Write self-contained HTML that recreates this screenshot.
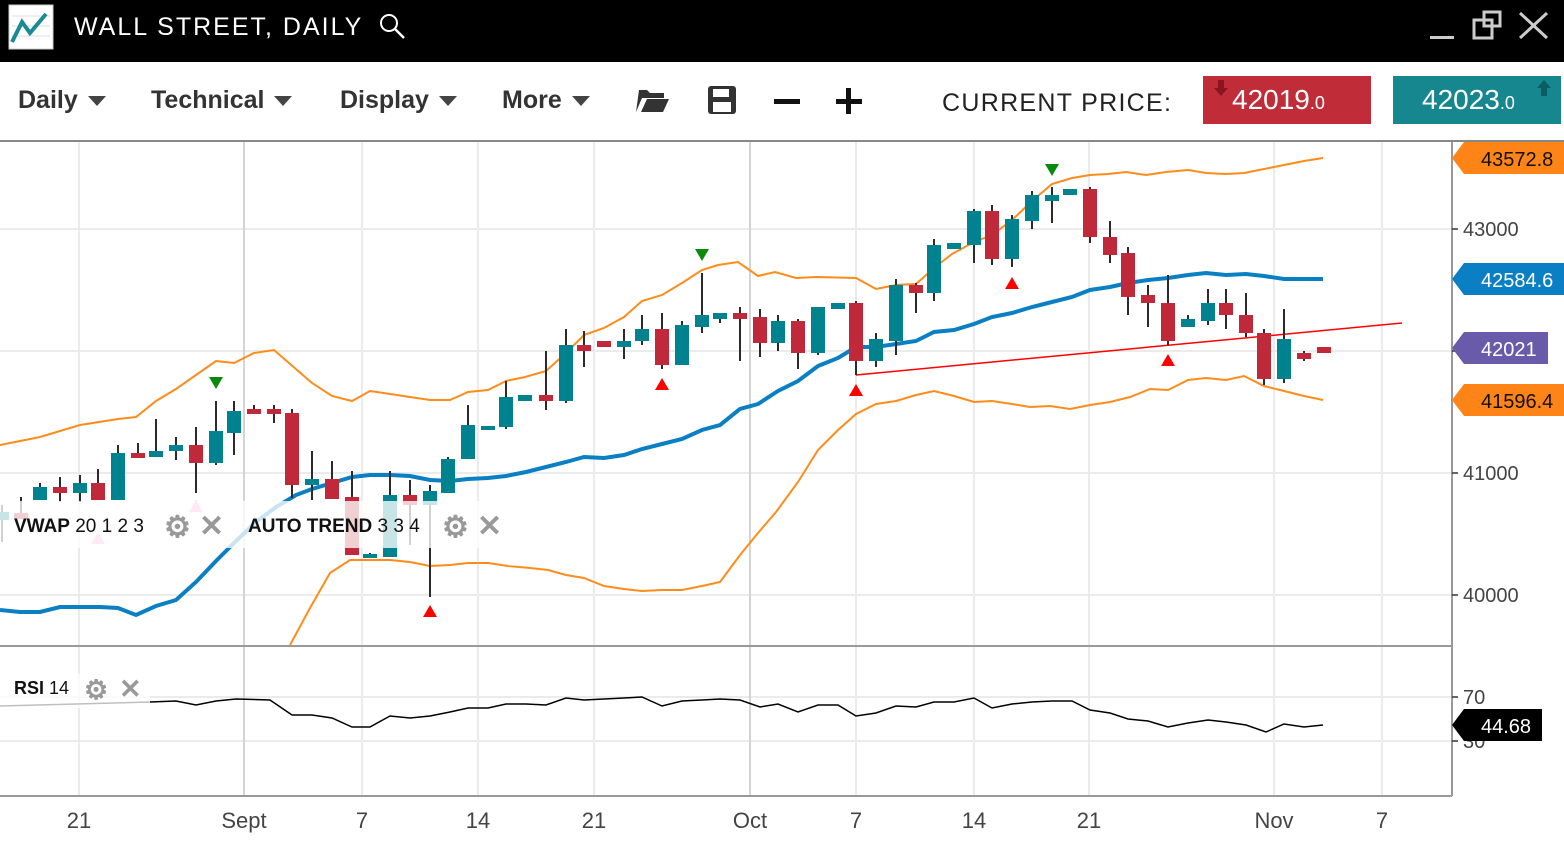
<!DOCTYPE html>
<html><head><meta charset="utf-8"><style>
body{margin:0;width:1564px;height:846px;overflow:hidden;background:#fff;font-family:"Liberation Sans",sans-serif;position:relative}
.top{position:absolute;left:0;top:0;width:1564px;height:62px;background:#000}
.tb{position:absolute;left:0;top:62px;width:1564px;height:78px;border-bottom:2px solid #888;background:#fff}
.m{position:absolute;top:86px;font-size:25px;font-weight:bold;color:#333}
.m .c{display:inline-block;width:0;height:0;border-left:9px solid transparent;border-right:9px solid transparent;border-top:10px solid #444;margin-left:10px;vertical-align:middle}
</style></head><body>
<div class="top">
<svg width="1564" height="62" style="position:absolute;left:0;top:0">
<rect x="9" y="5" width="44" height="44" fill="#fff" stroke="#ccc"/>
<line x1="12" y1="16" x2="50" y2="16" stroke="#ddd"/><line x1="12" y1="26" x2="50" y2="26" stroke="#ddd"/><line x1="12" y1="36" x2="50" y2="36" stroke="#ddd"/>
<polyline points="12,42 22,22 30,33 46,14" fill="none" stroke="#1a8a96" stroke-width="4"/>
<text x="74" y="35" fill="#fff" font-size="25" letter-spacing="2" font-family="Liberation Sans">WALL STREET, DAILY</text>
<circle cx="389" cy="23" r="8" fill="none" stroke="#fff" stroke-width="2"/><line x1="395" y1="29" x2="404" y2="38" stroke="#fff" stroke-width="2.5"/>
<rect x="1430" y="36" width="24" height="3" fill="#ccc"/>
<rect x="1474" y="20" width="18" height="18" fill="none" stroke="#ccc" stroke-width="3"/><rect x="1484" y="12" width="16" height="14" fill="none" stroke="#ccc" stroke-width="3"/>
<line x1="1520" y1="13" x2="1547" y2="38" stroke="#ccc" stroke-width="3"/><line x1="1547" y1="13" x2="1520" y2="38" stroke="#ccc" stroke-width="3"/>
</svg></div>
<div class="tb"></div>
<div class="m" style="left:18px">Daily<span class="c"></span></div>
<div class="m" style="left:151px">Technical<span class="c"></span></div>
<div class="m" style="left:340px">Display<span class="c"></span></div>
<div class="m" style="left:502px">More<span class="c"></span></div>
<svg width="1564" height="846" style="position:absolute;left:0;top:0">
<path d="M639 90 h8 l3 3 h14 v5 h-22 l-6 14 z M641 112 l6 -13 h22 l-6 13 z" fill="#333"/>
<rect x="708" y="86" width="28" height="28" rx="3" fill="#333"/><rect x="713" y="89" width="16" height="8" fill="#fff"/><rect x="713" y="102" width="18" height="10" fill="#fff"/>
<rect x="774" y="99" width="26" height="5" fill="#111"/>
<rect x="836" y="99" width="26" height="5" fill="#111"/><rect x="846" y="88" width="5" height="26" fill="#111"/>
<text x="942" y="111" font-size="25" letter-spacing="1.3" fill="#222">CURRENT PRICE:</text>
<rect x="1203" y="76" width="168" height="48" fill="#c12c39"/>
<path d="M1218 80 v8 h-4 l7 8 l7 -8 h-4 v-8z" fill="#8a1520"/>
<text x="1232" y="109" font-size="28" fill="#fff">42019<tspan font-size="18">.0</tspan></text>
<rect x="1393" y="76" width="168" height="48" fill="#16868f"/>
<path d="M1541 96 v-8 h-4 l7 -8 l7 8 h-4 v8z" fill="#0c5d63"/>
<text x="1422" y="109" font-size="28" fill="#fff">42023<tspan font-size="18">.0</tspan></text>

<g stroke="#ebebeb" stroke-width="2">
<line x1="0" y1="229" x2="1452" y2="229"/><line x1="0" y1="351" x2="1452" y2="351"/><line x1="0" y1="473" x2="1452" y2="473"/><line x1="0" y1="595" x2="1452" y2="595"/>
<line x1="0" y1="697" x2="1452" y2="697"/><line x1="0" y1="741" x2="1452" y2="741"/>
<line x1="79" y1="142" x2="79" y2="796"/><line x1="362" y1="142" x2="362" y2="796"/><line x1="478" y1="142" x2="478" y2="796"/><line x1="594" y1="142" x2="594" y2="796"/><line x1="856" y1="142" x2="856" y2="796"/><line x1="974" y1="142" x2="974" y2="796"/><line x1="1089" y1="142" x2="1089" y2="796"/><line x1="1274" y1="142" x2="1274" y2="796"/><line x1="1382" y1="142" x2="1382" y2="796"/>
</g>
<g stroke="#d4d4d4" stroke-width="2"><line x1="244" y1="142" x2="244" y2="796"/><line x1="750" y1="142" x2="750" y2="796"/></g>
<line x1="0" y1="646" x2="1452" y2="646" stroke="#999" stroke-width="2"/>
<line x1="0" y1="796" x2="1452" y2="796" stroke="#999" stroke-width="2"/>
<line x1="1452" y1="142" x2="1452" y2="796" stroke="#999" stroke-width="2"/>

<polyline fill="none" stroke="#ff8c1a" stroke-width="2" points="0,445 40,437 80,425 118,419 136,417 156,401 176,389 196,375 216,361 234,363 254,353 274,350 312,383 332,396 352,401 370,391 410,397 430,400 450,400 468,392 488,390 506,381 525,377 546,371 566,353 584,335 604,328 624,317 642,301 662,295 682,283 702,270 718,265 738,262 758,276 775,272 796,278 816,277 856,278 876,289 896,285 916,284 934,268 952,254 974,242 992,235 1012,220 1032,201 1052,184 1072,178 1090,175 1108,174 1126,172 1146,175 1166,172 1188,170 1206,173 1226,174 1244,173 1264,169 1284,165 1304,161 1323,158"/>
<polyline fill="none" stroke="#ff8c1a" stroke-width="2" points="290,645 310,608 330,573 350,560 370,560 390,560 410,562 430,566 450,565 468,563 488,563 508,566 530,568 548,570 566,575 584,578 604,586 624,589 642,591 662,590 682,590 702,586 720,582 740,555 758,533 776,512 798,482 818,450 838,430 856,414 876,404 896,401 916,395 934,391 954,396 974,402 992,401 1012,404 1030,407 1050,406 1070,409 1090,405 1110,402 1130,397 1150,389 1168,390 1188,380 1206,378 1226,380 1244,376 1264,386 1284,391 1304,396 1323,400"/>
<polyline fill="none" stroke="#0a7fc4" stroke-width="4" points="0,610 20,612 40,612 60,607 100,607 118,608 136,615 156,606 176,600 196,582 216,561 236,541 256,522 276,507 296,495 312,489 332,483 352,477 370,475 390,475 410,476 430,480 450,481 468,479 488,478 506,476 526,472 546,467 566,462 584,457 604,458 624,455 642,449 662,444 682,439 702,430 720,425 740,409 758,404 778,391 798,381 818,366 838,358 856,347 876,347 896,344 916,341 934,332 954,330 974,324 992,317 1012,313 1032,307 1052,302 1072,297 1090,290 1110,287 1128,283 1148,280 1168,278 1188,275 1206,273 1226,275 1246,274 1264,276 1284,279 1323,279"/>
<line x1="856" y1="375" x2="1402" y2="323" stroke="#f00" stroke-width="1.5"/>

<g id="c"></g>
<g fill="#f00"><path d="M655 390 l7 -12 l7 12z"/><path d="M423 617 l7 -12 l7 12z"/><path d="M849 396 l7 -12 l7 12z"/><path d="M1005 289 l7 -12 l7 12z"/><path d="M1161 366 l7 -12 l7 12z"/><path d="M91 544 l7 -12 l7 12z" fill="#f9c"/><path d="M189 512 l7 -12 l7 12z" fill="#f9c"/></g>
<g fill="#0a8a0a"><path d="M209 377 l7 12 l7 -12z"/><path d="M695 249 l7 12 l7 -12z"/><path d="M1045 164 l7 12 l7 -12z"/></g>

<rect x="0" y="501" width="505" height="47" fill="#fff" fill-opacity="0.78"/>
<text x="14" y="532" font-size="19" fill="#111"><tspan font-weight="bold">VWAP</tspan> 20 1 2 3</text>
<text x="248" y="532" font-size="19" fill="#111"><tspan font-weight="bold">AUTO TREND</tspan> 3 3 4</text>
<g fill="#999" font-size="30" font-weight="bold"><text x="164" y="537">⚙</text><text x="199" y="536">✕</text><text x="442" y="537">⚙</text><text x="477" y="536">✕</text></g>

<polyline fill="none" stroke="#000" stroke-width="1.5" points="0,706 150,702 176,701 196,705 216,701 236,699 270,700 292,715 312,715 332,718 352,727 370,727 390,716 410,718 430,716 450,712 468,708 488,708 506,704 526,704 546,705 566,698 584,700 604,699 624,698 642,697 662,706 682,701 702,700 720,699 740,700 760,707 778,704 798,712 818,705 838,705 856,716 876,713 896,706 916,707 934,702 954,702 974,698 992,708 1012,704 1032,702 1052,701 1072,701 1090,710 1110,713 1128,719 1148,721 1168,727 1188,723 1208,720 1226,722 1246,725 1266,732 1284,724 1304,727 1323,725"/>
<rect x="0" y="674" width="150" height="34" fill="#fff" fill-opacity="0.75"/>
<text x="14" y="694" font-size="18" fill="#111"><tspan font-weight="bold">RSI</tspan> 14</text>
<g fill="#999" font-size="27" font-weight="bold"><text x="84" y="699">⚙</text><text x="119" y="698">✕</text></g>

<g stroke="#333" stroke-width="1.5"><line x1="1452" y1="229" x2="1458" y2="229"/><line x1="1452" y1="473" x2="1458" y2="473"/><line x1="1452" y1="595" x2="1458" y2="595"/><line x1="1452" y1="351" x2="1458" y2="351"/><line x1="1452" y1="697" x2="1458" y2="697"/><line x1="1452" y1="741" x2="1458" y2="741"/></g>
<g font-size="20" fill="#444"><text x="1463" y="236">43000</text><text x="1463" y="480">41000</text><text x="1463" y="602">40000</text><text x="1463" y="704">70</text><text x="1463" y="748">30</text></g>
<path d="M1452 158 l12 -16 h100 v32 h-100z" fill="#ff8418"/><text x="1481" y="166" font-size="20" fill="#111">43572.8</text>
<path d="M1452 279 l12 -16 h100 v32 h-100z" fill="#0a7fc4"/><text x="1481" y="287" font-size="20" fill="#fff">42584.6</text>
<path d="M1452 348 l12 -16 h84 v32 h-84z" fill="#6a5aaa"/><text x="1481" y="356" font-size="20" fill="#fff">42021</text>
<path d="M1452 400 l12 -16 h100 v32 h-100z" fill="#ff8418"/><text x="1481" y="408" font-size="20" fill="#111">41596.4</text>
<path d="M1452 725 l12 -16 h78 v32 h-78z" fill="#000"/><text x="1481" y="733" font-size="20" fill="#fff">44.68</text>
<g font-size="22" fill="#444" text-anchor="middle"><text x="79" y="828">21</text><text x="244" y="828">Sept</text><text x="362" y="828">7</text><text x="478" y="828">14</text><text x="594" y="828">21</text><text x="750" y="828">Oct</text><text x="856" y="828">7</text><text x="974" y="828">14</text><text x="1089" y="828">21</text><text x="1274" y="828">Nov</text><text x="1382" y="828">7</text></g>
</svg>
<script>
var d=[[2,512,520,505,542,1],[21,513,519,497,519,0],[40,487,500,483,500,1],[60,487,493,477,502,0],[80,483,493,475,502,1],[98,483,500,469,500,0],[118,453,500,445,500,1],[138,453,458,443,458,0],[156,451,457,419,457,1],[176,445,451,437,460,1],[196,445,463,427,493,0],[216,431,463,401,465,1],[234,411,433,401,455,1],[254,409,414,405,414,0],[274,409,414,405,423,0],[292,413,485,409,498,0],[312,479,485,451,500,1],[332,479,499,461,499,0],[352,497,555,471,555,0],[370,554,557,553,557,1],[390,495,557,471,557,1],[410,495,505,480,545,0],[430,491,505,485,597,1],[448,459,493,457,493,1],[468,425,459,405,459,1],[488,426,430,426,430,1],[506,397,427,381,429,1],[525,395,401,395,401,1],[546,395,401,351,410,0],[566,345,401,329,403,1],[584,345,351,331,367,0],[604,341,347,341,347,0],[624,341,347,329,359,1],[642,329,341,315,345,1],[662,329,365,313,369,0],[682,325,365,321,365,1],[702,315,327,273,333,1],[720,313,319,313,323,1],[740,313,319,307,361,0],[760,317,343,309,357,0],[778,321,343,315,351,1],[798,321,353,319,369,0],[818,307,353,307,355,1],[838,303,309,303,309,1],[856,303,361,301,375,0],[876,339,361,333,367,1],[896,285,341,279,355,1],[916,285,293,283,313,0],[934,245,293,239,301,1],[954,243,249,243,249,1],[974,211,245,209,263,1],[992,211,259,205,265,0],[1012,219,259,215,267,1],[1032,195,221,191,229,1],[1052,195,201,187,223,1],[1070,189,195,189,195,1],[1090,189,237,187,243,0],[1110,237,255,221,263,0],[1128,253,297,247,315,0],[1148,295,303,285,327,0],[1168,303,341,275,345,0],[1188,319,327,315,327,1],[1208,303,321,289,325,1],[1226,303,315,289,329,0],[1246,315,333,293,337,0],[1264,333,379,329,385,0],[1284,339,379,309,383,1],[1304,353,359,351,361,0],[1324,347,353,347,353,0]];
var g=document.getElementById('c'),s='';
d.forEach(function(c){var col=c[5]?'#00838f':'#c0293a';s+='<line x1="'+c[0]+'" y1="'+c[3]+'" x2="'+c[0]+'" y2="'+c[4]+'" stroke="#2b2b2b" stroke-width="2"/><rect x="'+(c[0]-7)+'" y="'+c[1]+'" width="14" height="'+Math.max(c[2]-c[1],4)+'" fill="'+col+'"/>';});
g.innerHTML=s;
</script>
</body></html>
